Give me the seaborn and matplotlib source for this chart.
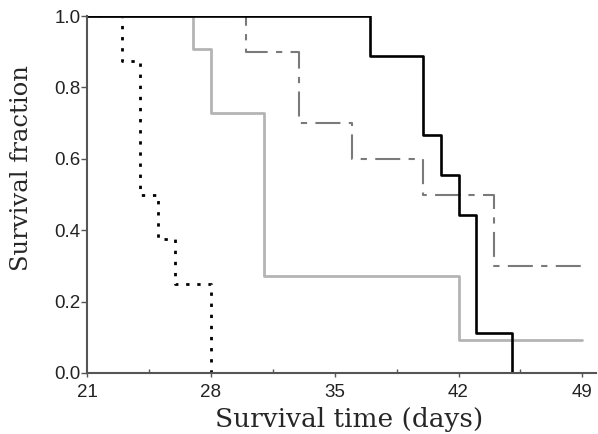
import numpy as np
import pandas as pd
import matplotlib as mpl
mpl.use("Agg")
import matplotlib.pyplot as plt
import seaborn as sns

# survival curves (step points, value after each event)
dotted_days = [21, 23, 24, 25, 26, 28]
dotted_surv = [1.0, 0.875, 0.5, 0.375, 0.25, 0.0]

gray_days = [21, 27, 28, 31, 42, 49]
gray_surv = [1.0, 0.909, 0.727, 0.273, 0.091, 0.091]

dashdot_days = [21, 30, 33, 36, 40, 44, 49]
dashdot_surv = [1.0, 0.9, 0.7, 0.6, 0.5, 0.3, 0.3]

black_days = [21, 37, 40, 41, 42, 43, 45]
black_surv = [1.0, 0.889, 0.667, 0.556, 0.444, 0.111, 0.0]

x_ticks = [21, 28, 35, 42, 49]
y_ticks = [0.0, 0.2, 0.4, 0.6, 0.8, 1.0]

sns.set_style("ticks")

fig = plt.figure(figsize=(5.98, 4.34), dpi=100)
ax = fig.add_axes([0.1455, 0.1406, 0.8505, 0.8224])

# drawn bottom to top so the shared 1.0 segment is a clean solid line
curves = [
    (dotted_days, dotted_surv, dict(color="black", lw=2.0, dashes=(1.2, 2.8))),
    (dashdot_days, dashdot_surv, dict(color="#7a7a7a", lw=1.5, dashes=(12, 4, 3, 4))),
    (gray_days, gray_surv, dict(color="#b4b4b4", lw=2.0)),
    (black_days, black_surv, dict(color="black", lw=1.9)),
]
for days, surv, style in curves:
    df = pd.DataFrame({"day": days, "surv": surv})
    sns.lineplot(data=df, x="day", y="surv", estimator=None, sort=False,
                 drawstyle="steps-post", ax=ax, **style)

ax.set_xlim(21, 49.75)
ax.set_ylim(0, 1.0)
ax.set_xticks(x_ticks)
ax.set_yticks(y_ticks)
ax.set_yticklabels(["%.1f" % v for v in y_ticks])
ax.xaxis.set_minor_locator(mpl.ticker.FixedLocator([24.5, 31.5, 38.5, 45.5]))
ax.tick_params(axis="x", which="major", direction="out", length=3, width=1, color="#555555",
               labelsize=13.5, pad=5)
ax.tick_params(axis="x", which="minor", direction="in", length=3, width=1, color="#555555")
ax.tick_params(axis="y", direction="out", length=4, width=1, color="#555555", labelsize=13.5, pad=0.5)
for lab in ax.get_xticklabels() + ax.get_yticklabels():
    lab.set_family(["Liberation Sans", "DejaVu Sans"])
    lab.set_color("#222222")

for s in ["top", "right"]:
    ax.spines[s].set_visible(False)
for s in ["left", "bottom"]:
    ax.spines[s].set_color("#555555")
    ax.spines[s].set_linewidth(1.5)

ax.set_xlabel("Survival time (days)", family=["DejaVu Serif"], fontsize=19)
ax.set_ylabel("Survival fraction", family=["DejaVu Serif"], fontsize=17.5)
ax.xaxis.set_label_coords(0.515, -0.095)
ax.yaxis.set_label_coords(-0.106, 0.573)

fig.savefig("out.png", dpi=100)
